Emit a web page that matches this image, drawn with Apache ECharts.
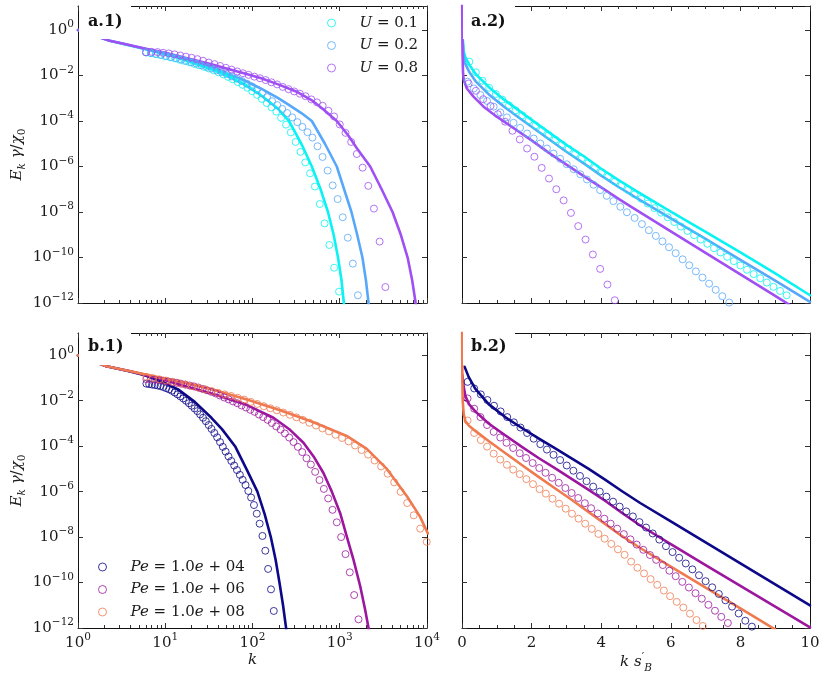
<!DOCTYPE html>
<html lang="en">
<head>
<meta charset="UTF-8">
<title>Spectra</title>
<script src="https://cdn.jsdelivr.net/npm/echarts@6/dist/echarts.min.js"></script>
<style>
  html, body { margin: 0; background: #fff; }
  #chart { width: 825px; height: 676px; }
</style>
</head>
<body>
<div id="chart"></div>
<script>
// values. left panels: log10(k), log10(E); right panels: k s'_B, log10(E)

// ---- a.1 ----
const a1U1LineK = [0, 0.363, 0.765, 1.147, 1.53, 1.72, 1.91, 2.10, 2.29, 2.42, 2.56, 2.68, 2.78, 2.865, 2.93, 2.98, 3.02, 3.047, 3.06];
const a1U1LineE = [0, -0.47, -0.83, -1.22, -1.72, -2.02, -2.40, -2.88, -3.45, -4.0, -5.0, -6.0, -7.0, -8.0, -9.0, -10.0, -11.0, -12.0, -12.6];
const a1U2LineK = [0, 0.363, 0.765, 1.147, 1.53, 1.91, 2.10, 2.29, 2.43, 2.56, 2.68, 2.83, 2.966, 3.05, 3.134, 3.2, 3.26, 3.30, 3.33, 3.35];
const a1U2LineE = [0, -0.47, -0.82, -1.19, -1.63, -2.22, -2.58, -2.98, -3.32, -3.65, -4.0, -5.0, -6.0, -7.0, -8.0, -9.0, -10.0, -11.0, -12.0, -12.7];
const a1U8LineK = [0, 0.363, 0.5, 0.765, 1.0, 1.147, 1.529, 1.911, 2.1, 2.294, 2.5, 2.676, 2.8, 2.966, 3.1, 3.196, 3.349, 3.48, 3.605, 3.70, 3.778, 3.83, 3.87, 3.9];
const a1U8LineE = [0, -0.47, -0.58, -0.81, -1.0, -1.14, -1.51, -1.91, -2.12, -2.39, -2.7, -3.08, -3.45, -4.0, -4.65, -5.2, -6.0, -7.0, -8.0, -9.0, -10.0, -11.0, -12.0, -12.8];

const a1U1DotK = [0.780,0.835,0.891,0.946,1.001,1.057,1.112,1.167,1.222,1.278,1.333,1.388,1.444,1.499,1.554,1.610,1.665,1.720,1.775,1.831,1.886,1.941,1.997,2.052,2.107,2.163,2.218,2.273,2.328,2.384,2.439,2.494,2.550,2.605,2.660,2.715,2.771,2.826,2.881,2.936,2.992];
const a1U1DotE = [-0.98,-1.02,-1.06,-1.10,-1.15,-1.20,-1.25,-1.31,-1.36,-1.42,-1.49,-1.55,-1.62,-1.69,-1.77,-1.86,-1.95,-2.06,-2.17,-2.29,-2.41,-2.54,-2.69,-2.85,-3.03,-3.21,-3.40,-3.59,-3.86,-4.16,-4.50,-4.92,-5.36,-5.82,-6.30,-6.88,-7.65,-8.50,-9.45,-10.45,-11.50];
const a1U2DotK = [0.780,0.838,0.896,0.953,1.011,1.069,1.127,1.185,1.242,1.300,1.358,1.416,1.474,1.531,1.589,1.647,1.705,1.763,1.820,1.878,1.936,1.994,2.052,2.109,2.167,2.225,2.283,2.341,2.398,2.456,2.514,2.572,2.630,2.687,2.745,2.803,2.861,2.919,2.976,3.034,3.092,3.150,3.208];
const a1U2DotE = [-0.98,-1.01,-1.05,-1.09,-1.14,-1.19,-1.24,-1.30,-1.36,-1.42,-1.48,-1.55,-1.62,-1.69,-1.77,-1.85,-1.94,-2.04,-2.14,-2.24,-2.36,-2.48,-2.62,-2.77,-2.95,-3.13,-3.30,-3.47,-3.65,-3.84,-4.05,-4.26,-4.49,-4.73,-5.11,-5.58,-6.18,-6.83,-7.43,-8.23,-9.13,-10.27,-11.66];
const a1U8DotK = [0.780,0.845,0.911,0.976,1.041,1.107,1.172,1.237,1.302,1.368,1.433,1.498,1.564,1.629,1.694,1.760,1.825,1.890,1.955,2.021,2.086,2.151,2.217,2.282,2.347,2.413,2.478,2.543,2.608,2.674,2.739,2.804,2.870,2.935,3.000,3.066,3.131,3.196,3.262,3.327,3.392,3.457,3.523];
const a1U8DotE = [-0.98,-0.96,-0.97,-1.00,-1.03,-1.07,-1.12,-1.17,-1.22,-1.28,-1.35,-1.43,-1.50,-1.58,-1.66,-1.74,-1.82,-1.90,-1.97,-2.05,-2.12,-2.20,-2.30,-2.39,-2.50,-2.60,-2.70,-2.80,-2.91,-3.05,-3.18,-3.33,-3.55,-3.80,-4.15,-4.52,-4.92,-5.45,-6.05,-6.85,-7.85,-9.30,-11.30];

// ---- a.2 ----
const a2LineS = [0.02, 0.05, 0.1, 0.2, 0.4, 0.8, 1.2, 1.6, 2.0, 2.5, 3.0, 3.5, 4.0, 4.5, 5.0, 6.0, 7.0, 8.0, 9.0, 10.0];
const a2U1LineE = [-0.35, -0.95, -1.2, -1.5, -1.95, -2.55, -3.05, -3.5, -3.95, -4.5, -5.05, -5.55, -6.1, -6.6, -7.07, -7.98, -8.87, -9.77, -10.7, -11.66];
const a2U2LineE = [-0.5, -1.2, -1.5, -1.82, -2.27, -2.87, -3.36, -3.81, -4.25, -4.8, -5.35, -5.86, -6.4, -6.9, -7.37, -8.28, -9.18, -10.1, -11.02, -11.95];
const a2U8LineS = [0.003, 0.015, 0.03, 0.05, 0.14, 0.33, 0.62, 1.0, 1.5, 2.0, 2.5, 3.0, 3.5, 4.0, 4.5, 4.83, 6.0, 7.0, 8.0, 9.0, 9.4];
const a2U8LineE = [1.5, -1.0, -1.9, -2.2, -2.57, -2.93, -3.37, -3.81, -4.33, -4.85, -5.4, -5.92, -6.42, -6.92, -7.42, -7.74, -8.85, -9.8, -10.74, -11.69, -12.07];

const a2U1DotS = [0.21,0.40,0.59,0.78,0.97,1.16,1.35,1.54,1.73,1.92,2.11,2.30,2.49,2.68,2.87,3.06,3.25,3.44,3.63,3.82,4.01,4.20,4.39,4.58,4.77,4.96,5.15,5.34,5.53,5.72,5.91,6.10,6.29,6.48,6.67,6.86,7.05,7.24,7.43,7.62,7.81,8.00,8.19,8.38,8.57,8.76,8.95,9.14,9.33];
const a2U1DotE = [-1.39,-1.86,-2.23,-2.54,-2.81,-3.06,-3.31,-3.53,-3.75,-3.97,-4.19,-4.41,-4.62,-4.82,-5.03,-5.23,-5.44,-5.64,-5.85,-6.05,-6.25,-6.44,-6.66,-6.84,-7.03,-7.22,-7.42,-7.63,-7.83,-8.03,-8.23,-8.44,-8.64,-8.83,-9.02,-9.21,-9.40,-9.59,-9.78,-9.97,-10.16,-10.35,-10.54,-10.73,-10.91,-11.10,-11.29,-11.47,-11.66];
const a2U2DotS = [0.16,0.34,0.53,0.72,0.91,1.10,1.29,1.48,1.67,1.87,2.06,2.25,2.44,2.63,2.82,3.01,3.21,3.40,3.59,3.78,3.97,4.16,4.35,4.55,4.74,4.96,5.17,5.37,5.57,5.76,5.95,6.14,6.34,6.53,6.72,6.91,7.10,7.29,7.48,7.68];
const a2U2DotE = [-2.27,-2.57,-2.86,-3.12,-3.37,-3.62,-3.84,-4.08,-4.30,-4.55,-4.77,-4.99,-5.21,-5.43,-5.66,-5.90,-6.12,-6.34,-6.57,-6.80,-7.04,-7.29,-7.52,-7.77,-8.01,-8.26,-8.53,-8.80,-9.05,-9.29,-9.55,-9.81,-10.08,-10.34,-10.61,-10.88,-11.15,-11.42,-11.70,-11.98];
const a2U8DotS = [0.19,0.40,0.61,0.82,1.03,1.24,1.45,1.66,1.87,2.08,2.29,2.50,2.71,2.92,3.13,3.34,3.55,3.76,3.97,4.18,4.39];
const a2U8DotE = [-2.35,-2.67,-3.04,-3.34,-3.70,-4.03,-4.43,-4.81,-5.21,-5.57,-6.06,-6.53,-7.00,-7.49,-8.04,-8.62,-9.21,-9.87,-10.50,-11.19,-11.88];

// ---- b.1 ----
const b1P4LineK = [0, 0.325, 0.573, 0.765, 0.956, 1.147, 1.338, 1.529, 1.65, 1.80, 1.93, 2.056, 2.14, 2.21, 2.265, 2.309, 2.35, 2.385, 2.40];
const b1P4LineE = [0, -0.48, -0.69, -0.88, -1.15, -1.50, -2.05, -2.75, -3.25, -4.0, -5.0, -6.0, -7.0, -8.0, -9.0, -10.0, -11.0, -12.0, -12.5];
const b1P6LineK = [0, 0.325, 0.6, 0.9, 1.17, 1.55, 1.93, 2.24, 2.43, 2.584, 2.70, 2.813, 2.909, 3.005, 3.081, 3.158, 3.234, 3.291, 3.33, 3.35];
const b1P6LineE = [0, -0.48, -0.70, -0.98, -1.30, -1.70, -2.18, -2.75, -3.28, -3.85, -4.45, -5.18, -6.0, -6.95, -7.98, -9.0, -10.15, -11.2, -12.0, -12.5];
const b1P8LineK = [0, 0.325, 0.6, 0.9, 1.17, 1.55, 1.935, 2.317, 2.699, 3.08, 3.31, 3.54, 3.77, 3.92, 4.01];
const b1P8LineE = [0, -0.48, -0.70, -0.95, -1.17, -1.52, -1.95, -2.42, -2.95, -3.55, -4.12, -5.0, -6.2, -7.1, -7.84];

const b1P4DotK = [0.784,0.816,0.849,0.881,0.914,0.946,0.979,1.011,1.044,1.076,1.108,1.141,1.173,1.206,1.238,1.271,1.303,1.336,1.368,1.400,1.433,1.465,1.498,1.530,1.563,1.595,1.628,1.660,1.692,1.725,1.757,1.790,1.822,1.855,1.887,1.920,1.952,1.984,2.017,2.049,2.082,2.114,2.147,2.179,2.212,2.244];
const b1P4DotE = [-1.25,-1.27,-1.29,-1.31,-1.33,-1.36,-1.40,-1.45,-1.50,-1.56,-1.64,-1.72,-1.81,-1.90,-2.00,-2.11,-2.22,-2.34,-2.46,-2.60,-2.75,-2.90,-3.07,-3.24,-3.42,-3.61,-3.82,-4.03,-4.24,-4.45,-4.65,-4.85,-5.05,-5.26,-5.48,-5.71,-5.97,-6.26,-6.59,-6.97,-7.41,-7.95,-8.60,-9.40,-10.30,-11.25];
const b1P6DotK = [0.784,0.834,0.883,0.933,0.982,1.032,1.082,1.131,1.181,1.230,1.280,1.330,1.379,1.429,1.478,1.528,1.578,1.627,1.677,1.726,1.776,1.826,1.875,1.925,1.974,2.024,2.074,2.123,2.173,2.222,2.272,2.322,2.371,2.421,2.470,2.520,2.570,2.619,2.669,2.718,2.768,2.818,2.867,2.917,2.966,3.016,3.066,3.115,3.165,3.215];
const b1P6DotE = [-1.05,-1.06,-1.08,-1.10,-1.12,-1.15,-1.18,-1.21,-1.25,-1.29,-1.33,-1.37,-1.42,-1.48,-1.54,-1.61,-1.68,-1.77,-1.86,-1.94,-2.03,-2.11,-2.21,-2.30,-2.40,-2.49,-2.61,-2.72,-2.84,-2.98,-3.13,-3.27,-3.44,-3.62,-3.82,-4.03,-4.26,-4.53,-4.81,-5.13,-5.49,-5.88,-6.30,-6.80,-7.35,-8.00,-8.75,-9.55,-10.55,-11.62];
const b1P8DotK = [0.784,0.859,0.933,1.008,1.083,1.158,1.232,1.307,1.382,1.457,1.531,1.606,1.681,1.755,1.830,1.905,1.980,2.054,2.129,2.204,2.279,2.353,2.428,2.503,2.577,2.652,2.727,2.802,2.876,2.951,3.026,3.101,3.175,3.250,3.325,3.399,3.474,3.549,3.624,3.698,3.773,3.848,3.922,3.997];
const b1P8DotE = [-0.95,-1.01,-1.06,-1.11,-1.17,-1.23,-1.29,-1.36,-1.43,-1.50,-1.57,-1.65,-1.72,-1.79,-1.87,-1.95,-2.05,-2.14,-2.24,-2.33,-2.42,-2.52,-2.62,-2.73,-2.84,-2.97,-3.09,-3.22,-3.35,-3.50,-3.64,-3.79,-3.97,-4.17,-4.37,-4.63,-4.89,-5.21,-5.59,-6.01,-6.50,-7.04,-7.63,-8.21];

// ---- b.2 ----
const b2P4LineS = [0.076, 0.19, 0.38, 0.765, 1.24, 1.72, 2.2, 2.68, 3.16, 3.64, 4.11, 4.59, 5.12, 6, 7, 8, 9, 10];
const b2P4LineE = [-0.51, -0.95, -1.47, -2.15, -2.72, -3.2, -3.66, -4.10, -4.55, -5.0, -5.47, -5.97, -6.50, -7.31, -8.23, -9.16, -10.08, -11.0];
const b2P6LineS = [0.008, 0.05, 0.1, 0.2, 0.4, 0.765, 1.24, 1.72, 2.2, 2.68, 3.16, 3.64, 4.11, 4.59, 5.12, 6, 7, 8, 9, 10];
const b2P6LineE = [-0.85, -1.4, -1.8, -2.15, -2.5, -3.0, -3.52, -4.03, -4.52, -4.98, -5.45, -5.92, -6.4, -6.93, -7.49, -8.31, -9.23, -10.15, -11.06, -11.97];
const b2P8LineS = [0.003, 0.01, 0.02, 0.05, 0.1, 0.2, 0.4, 0.765, 1.24, 1.72, 2.2, 2.68, 3.16, 3.64, 4.11, 4.59, 5.12, 6, 7, 8, 8.9, 9.0];
const b2P8LineE = [1.5, -1.0, -2.0, -2.6, -2.9, -3.1, -3.35, -3.77, -4.3, -4.83, -5.35, -5.86, -6.37, -6.9, -7.42, -7.95, -8.48, -9.3, -10.22, -11.14, -11.97, -12.06];

const b2P4DotS = [0.16,0.35,0.54,0.73,0.92,1.11,1.30,1.49,1.68,1.87,2.06,2.25,2.44,2.63,2.82,3.01,3.20,3.39,3.58,3.77,3.96,4.15,4.34,4.53,4.72,4.91,5.10,5.29,5.48,5.67,5.86,6.05,6.24,6.43,6.62,6.81,7.00,7.19,7.38,7.57,7.76,7.95,8.14,8.33];
const b2P4DotE = [-1.17,-1.46,-1.72,-1.97,-2.22,-2.47,-2.72,-2.95,-3.18,-3.42,-3.67,-3.91,-4.15,-4.38,-4.61,-4.85,-5.08,-5.31,-5.54,-5.78,-6.00,-6.22,-6.44,-6.66,-6.87,-7.09,-7.34,-7.58,-7.84,-8.11,-8.40,-8.66,-8.91,-9.16,-9.42,-9.68,-9.94,-10.21,-10.50,-10.78,-11.06,-11.36,-11.68,-11.94];
const b2P6DotS = [0.16,0.35,0.53,0.72,0.91,1.10,1.28,1.47,1.66,1.84,2.03,2.22,2.40,2.59,2.78,2.97,3.15,3.34,3.53,3.71,3.90,4.09,4.27,4.46,4.65,4.84,5.02,5.21,5.40,5.58,5.77,5.96,6.14,6.33,6.52,6.71,6.89,7.08,7.27,7.45,7.64];
const b2P6DotE = [-1.90,-2.35,-2.72,-3.07,-3.37,-3.62,-3.85,-4.08,-4.31,-4.52,-4.74,-4.96,-5.17,-5.39,-5.61,-5.84,-6.06,-6.28,-6.51,-6.73,-6.96,-7.19,-7.41,-7.63,-7.87,-8.10,-8.33,-8.56,-8.79,-9.00,-9.23,-9.48,-9.72,-9.97,-10.22,-10.47,-10.71,-10.98,-11.24,-11.51,-11.78];
const b2P8DotS = [0.16,0.35,0.54,0.72,0.91,1.10,1.29,1.47,1.66,1.85,2.04,2.23,2.41,2.60,2.79,2.98,3.16,3.35,3.54,3.73,3.92,4.10,4.29,4.48,4.67,4.86,5.04,5.23,5.42,5.61,5.80,5.98,6.17,6.36,6.55,6.74,6.92];
const b2P8DotE = [-2.87,-3.42,-3.73,-4.02,-4.33,-4.59,-4.82,-5.03,-5.23,-5.45,-5.67,-5.89,-6.09,-6.31,-6.53,-6.75,-6.97,-7.19,-7.41,-7.64,-7.86,-8.07,-8.30,-8.54,-8.78,-9.08,-9.35,-9.60,-9.85,-10.10,-10.35,-10.60,-10.85,-11.10,-11.37,-11.65,-11.91];

const uNames = ['U = 0.1', 'U = 0.2', 'U = 0.8'];
const peNames = ['Pe = 1.0e+04', 'Pe = 1.0e+06', 'Pe = 1.0e+08'];
const panelTags = ['a.1)', 'a.2)', 'b.1)', 'b.2)'];

var coolCols = ['#0af2f2', '#58a8fa', '#a050f2'];
var plasmaCols = ['#0d0887', '#9c179e', '#ef7a50'];
var serif = '"DejaVu Serif", "Liberation Serif", serif';
var ink = '#1a1a1a';

var chart = echarts.init(document.getElementById('chart'));

function pairs(xs, es, logX) {
    return xs.map(function (x, i) {
        return [logX ? Math.pow(10, x) : x, Math.pow(10, es[i])];
    });
}

function line(name, g, xs, es, col, logX) {
    return {
        name: name, type: 'line', xAxisIndex: g, yAxisIndex: g,
        data: pairs(xs, es, logX), symbol: 'none', showSymbol: false,
        smooth: false, clip: true, z: 3, silent: true,
        lineStyle: { color: col, width: 2.6, cap: 'round', join: 'round' },
        itemStyle: { color: col }
    };
}

function dots(name, g, xs, es, col, logX) {
    return {
        name: name, type: 'scatter', xAxisIndex: g, yAxisIndex: g,
        data: pairs(xs, es, logX), symbol: 'circle', symbolSize: 7,
        clip: true, z: 4, silent: true,
        itemStyle: { color: 'rgba(0,0,0,0)', borderColor: col, borderWidth: 1 }
    };
}

var tickRich = {
    b: { fontFamily: serif, fontSize: 15, color: ink, lineHeight: 22, verticalAlign: 'middle' },
    s: { fontFamily: serif, fontSize: 10.5, color: ink, verticalAlign: 'top' }
};
var nameRich = {
    i: { fontFamily: serif, fontStyle: 'italic', fontSize: 15, color: ink, lineHeight: 22, verticalAlign: 'middle' },
    n: { fontFamily: serif, fontSize: 15, color: ink, lineHeight: 22, verticalAlign: 'middle' },
    sub: { fontFamily: serif, fontStyle: 'italic', fontSize: 10.5, color: ink, verticalAlign: 'bottom' },
    sub0: { fontFamily: serif, fontSize: 10.5, color: ink, verticalAlign: 'bottom' },
    sup: { fontFamily: serif, fontSize: 11, color: ink, verticalAlign: 'top' }
};

function powLabel(v) {
    var n = Math.round(Math.log10(v));
    return '{b|10}{s|' + (n < 0 ? '\u2212' + (-n) : n) + '}';
}

var lineAx = { show: true, onZero: false, lineStyle: { color: '#111', width: 1 } };
var tickAx = { show: true, inside: true, length: 5, lineStyle: { color: '#333', width: 1 } };

function xLog(g, pos, labels, name) {
    return {
        type: 'log', logBase: 10, gridIndex: g, position: pos, min: 1, max: 10000,
        axisLine: lineAx, axisTick: tickAx,
        minorTick: { show: true, splitNumber: 9, length: 3, lineStyle: { color: '#333' } },
        splitLine: { show: false },
        axisLabel: { show: labels, margin: 4, formatter: powLabel, rich: tickRich },
        name: name || '', nameLocation: 'middle', nameGap: 21,
        nameTextStyle: { rich: nameRich }
    };
}

function xLin(g, pos, labels, name) {
    return {
        type: 'value', gridIndex: g, position: pos, min: 0, max: 10, interval: 2,
        axisLine: lineAx, axisTick: tickAx,
        minorTick: { show: true, splitNumber: 4, length: 3, lineStyle: { color: '#333' } },
        splitLine: { show: false },
        axisLabel: { show: labels, margin: 4, formatter: function (v) { return '{b|' + v + '}'; }, rich: tickRich },
        name: name || '', nameLocation: 'middle', nameGap: 21,
        nameTextStyle: { rich: nameRich }
    };
}

function yLog(g, pos, labels, top, withName) {
    return {
        type: 'log', logBase: 100, gridIndex: g, position: pos, min: 1e-12, max: top,
        axisLine: lineAx, axisTick: tickAx, splitLine: { show: false },
        axisLabel: { show: labels, margin: 4, formatter: powLabel, rich: tickRich, showMaxLabel: false },
        name: withName ? '{i|E}{sub|k}{i| \u03b3}{n|/}{i|\u03c7}{sub0|0}' : '',
        nameLocation: 'middle', nameRotate: 90, nameGap: 50,
        nameTextStyle: { rich: nameRich }
    };
}

var topMax = Math.pow(10, 1.056);
var botMax = Math.pow(10, 0.98);

var kName = '{i|k}';
var ksName = '{i|k s}{sup|\u2032}{sub|B}';

var series = [
    line('l-a1-1', 0, a1U1LineK, a1U1LineE, coolCols[0], true),
    line('l-a1-2', 0, a1U2LineK, a1U2LineE, coolCols[1], true),
    line('l-a1-3', 0, a1U8LineK, a1U8LineE, coolCols[2], true),
    dots(uNames[0], 0, a1U1DotK, a1U1DotE, coolCols[0], true),
    dots(uNames[1], 0, a1U2DotK, a1U2DotE, coolCols[1], true),
    dots(uNames[2], 0, a1U8DotK, a1U8DotE, coolCols[2], true),

    line('l-a2-1', 1, a2LineS, a2U1LineE, coolCols[0], false),
    line('l-a2-2', 1, a2LineS, a2U2LineE, coolCols[1], false),
    line('l-a2-3', 1, a2U8LineS, a2U8LineE, coolCols[2], false),
    dots(uNames[0], 1, a2U1DotS, a2U1DotE, coolCols[0], false),
    dots(uNames[1], 1, a2U2DotS, a2U2DotE, coolCols[1], false),
    dots(uNames[2], 1, a2U8DotS, a2U8DotE, coolCols[2], false),

    line('l-b1-1', 2, b1P4LineK, b1P4LineE, plasmaCols[0], true),
    line('l-b1-2', 2, b1P6LineK, b1P6LineE, plasmaCols[1], true),
    line('l-b1-3', 2, b1P8LineK, b1P8LineE, plasmaCols[2], true),
    dots(peNames[0], 2, b1P4DotK, b1P4DotE, plasmaCols[0], true),
    dots(peNames[1], 2, b1P6DotK, b1P6DotE, plasmaCols[1], true),
    dots(peNames[2], 2, b1P8DotK, b1P8DotE, plasmaCols[2], true),

    line('l-b2-1', 3, b2P4LineS, b2P4LineE, plasmaCols[0], false),
    line('l-b2-2', 3, b2P6LineS, b2P6LineE, plasmaCols[1], false),
    line('l-b2-3', 3, b2P8LineS, b2P8LineE, plasmaCols[2], false),
    dots(peNames[0], 3, b2P4DotS, b2P4DotE, plasmaCols[0], false),
    dots(peNames[1], 3, b2P6DotS, b2P6DotE, plasmaCols[1], false),
    dots(peNames[2], 3, b2P8DotS, b2P8DotE, plasmaCols[2], false)
];

var legendRich = {
    i: { fontFamily: serif, fontStyle: 'italic', fontSize: 15, color: ink, lineHeight: 18 },
    t: { fontFamily: serif, fontSize: 15, color: ink, lineHeight: 18 }
};
var legendText = {
    'U = 0.1': '{i|U}{t| = 0.1}',
    'U = 0.2': '{i|U}{t| = 0.2}',
    'U = 0.8': '{i|U}{t| = 0.8}',
    'Pe = 1.0e+04': '{i|Pe}{t| = 1.0}{i|e}{t| + 04}',
    'Pe = 1.0e+06': '{i|Pe}{t| = 1.0}{i|e}{t| + 06}',
    'Pe = 1.0e+08': '{i|Pe}{t| = 1.0}{i|e}{t| + 08}'
};

function legendItems(names, cols) {
    return names.map(function (n, i) {
        return { name: n, icon: 'circle', itemStyle: { color: 'rgba(0,0,0,0)', borderColor: cols[i], borderWidth: 1 } };
    });
}

function legendBox(left, top, names, cols) {
    return {
        left: left, top: top, orient: 'vertical', padding: 0,
        itemWidth: 46, itemHeight: 8, itemGap: 4.5, selectedMode: false,
        data: legendItems(names, cols),
        formatter: function (n) { return legendText[n]; },
        textStyle: { fontFamily: serif, fontSize: 15, color: ink, lineHeight: 18, rich: legendRich }
    };
}

var tagBoxes = [
    { x: 79, y: 0, tx: 88, ty: 22 },
    { x: 463, y: 0, tx: 471, ty: 22 },
    { x: 79, y: 326, tx: 88, ty: 347 },
    { x: 463, y: 326, tx: 471, ty: 347 }
];
var graphic = [];
tagBoxes.forEach(function (b, i) {
    graphic.push({ type: 'rect', z: 100, shape: { x: b.x, y: b.y, width: 52, height: 39 }, style: { fill: '#fff' } });
    graphic.push({ type: 'text', z: 101, x: b.tx, y: b.ty,
        style: { text: panelTags[i], font: 'bold 16px "DejaVu Serif", serif', fill: '#111', verticalAlign: 'middle' } });
});

var option = {
    animation: false,
    backgroundColor: '#fff',
    grid: [
        { left: 78, top: 6, width: 349, height: 297 },
        { left: 462, top: 6, width: 348, height: 297 },
        { left: 78, top: 333, width: 349, height: 295 },
        { left: 462, top: 333, width: 348, height: 295 }
    ],
    xAxis: [
        xLog(0, 'bottom', false), xLin(1, 'bottom', false),
        xLog(2, 'bottom', true, kName), xLin(3, 'bottom', true, ksName),
        xLog(0, 'top', false), xLin(1, 'top', false),
        xLog(2, 'top', false), xLin(3, 'top', false)
    ],
    yAxis: [
        yLog(0, 'left', true, topMax, true), yLog(1, 'left', false, topMax),
        yLog(2, 'left', true, botMax, true), yLog(3, 'left', false, botMax),
        yLog(0, 'right', false, topMax), yLog(1, 'right', false, topMax),
        yLog(2, 'right', false, botMax), yLog(3, 'right', false, botMax)
    ],
    legend: [
        legendBox(327, 14, uNames, coolCols),
        legendBox(98, 558, peNames, plasmaCols)
    ],
    graphic: graphic,
    series: series
};

option && chart.setOption(option);
</script>
</body>
</html>
